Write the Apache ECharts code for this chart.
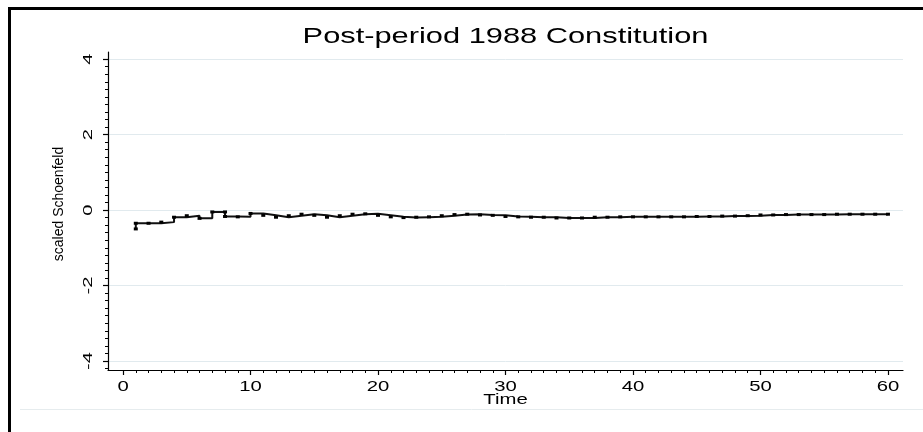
<!DOCTYPE html>
<html>
<head>
<meta charset="utf-8">
<script src="https://cdn.jsdelivr.net/npm/echarts@6/dist/echarts.min.js"></script>
<style>
  html, body { margin: 0; padding: 0; background: #fff; }
  #chart { width: 923px; height: 432px; }
</style>
</head>
<body>
<div id="chart"></div>
<script>
// scaled Schoenfeld residuals against time (step plot)
const timeVals = [1, 1, 2, 3, 4, 5, 6, 7, 8, 8, 9, 10, 11, 12, 13, 14, 15, 16, 17, 18, 19, 20,
  21, 22, 23, 24, 25, 26, 27, 28, 29, 30, 31, 32, 33, 34, 35, 36, 37, 38, 39, 40,
  41, 42, 43, 44, 45, 46, 47, 48, 49, 50, 51, 52, 53, 54, 55, 56, 57, 58, 59, 60];
const residVals = [-0.50, -0.35, -0.35, -0.32, -0.19, -0.15, -0.22, -0.05, -0.05, -0.17, -0.18, -0.09,
  -0.14, -0.19, -0.15, -0.11, -0.14, -0.19, -0.15, -0.11, -0.10, -0.14,
  -0.18, -0.20, -0.19, -0.18, -0.15, -0.12, -0.11, -0.13, -0.14, -0.17,
  -0.18, -0.19, -0.19, -0.21, -0.21, -0.21, -0.19, -0.19, -0.18, -0.18,
  -0.18, -0.18, -0.18, -0.18, -0.17, -0.17, -0.16, -0.16, -0.15, -0.13,
  -0.13, -0.12, -0.12, -0.12, -0.12, -0.11, -0.11, -0.11, -0.11, -0.11];
const xTicks = [0, 10, 20, 30, 40, 50, 60];
const yTicks = [-4, -2, 0, 2, 4];
const titleText = 'Post-period 1988 Constitution';
const xName = 'Time';
const yName = 'scaled Schoenfeld';

const X_MIN = -1.18, X_MAX = 61.18;
const Y_MIN = -4.24, Y_MAX = 4.19;
const FONT = '"Liberation Sans", Arial, sans-serif';

const xMinor = [];
for (let i = 0; i <= 60; i++) xMinor.push(i);
const yMinor = [];
for (let i = -21; i <= 20; i++) yMinor.push(Math.round(i * 2) / 10);

const seriesData = timeVals.map((t, i) => [t, residVals[i]]);

const chart = echarts.init(document.getElementById('chart'));

const option = {
  animation: false,
  backgroundColor: '#fff',
  grid: { left: 108, right: 20, top: 52, bottom: 62 },
  xAxis: [
    {
      type: 'value', min: X_MIN, max: X_MAX,
      axisLine: { onZero: false, lineStyle: { color: '#000', width: 1.2 } },
      axisTick: { customValues: xTicks, length: 5, lineStyle: { color: '#000', width: 1.2 } },
      axisLabel: { show: false },
      splitLine: { show: false }
    },
    {
      type: 'value', min: X_MIN, max: X_MAX, position: 'bottom',
      axisLine: { show: false, onZero: false },
      axisTick: { customValues: xMinor, length: 3, lineStyle: { color: '#000' } },
      axisLabel: { show: false },
      splitLine: { show: false }
    }
  ],
  yAxis: [
    {
      type: 'value', min: Y_MIN, max: Y_MAX,
      axisLine: { show: true, onZero: false, lineStyle: { color: '#000', width: 1.2 } },
      axisTick: { show: true, customValues: yTicks, length: 5, lineStyle: { color: '#000', width: 1.2 } },
      axisLabel: { show: false },
      splitLine: { show: true, lineStyle: { color: '#e1eaee', width: 1 } }
    },
    {
      type: 'value', min: Y_MIN, max: Y_MAX, position: 'left',
      axisLine: { show: false, onZero: false },
      axisTick: { show: true, customValues: yMinor, length: 3, lineStyle: { color: '#000' } },
      axisLabel: { show: false },
      splitLine: { show: false }
    }
  ],
  series: [
    {
      type: 'line',
      step: 'end',
      data: seriesData,
      symbol: 'rect',
      symbolSize: [4, 3],
      showAllSymbol: true,
      itemStyle: { color: '#000' },
      lineStyle: { color: '#111', width: 2 }
    }
  ]
};

chart.setOption(option);

// labels drawn as graphics so they can be widened like the original export
const axisY = chart.convertToPixel({ yAxisIndex: 0 }, Y_MIN);
const axisX = chart.convertToPixel({ xAxisIndex: 0 }, X_MIN);
const plotTop = chart.convertToPixel({ yAxisIndex: 0 }, Y_MAX);
const plotRight = chart.convertToPixel({ xAxisIndex: 0 }, X_MAX);

const graphics = [
  { type: 'rect', shape: { x: 9.5, y: 8.5, width: 940, height: 450 },
    style: { fill: 'none', stroke: '#000', lineWidth: 3 }, z: 10 },
  { type: 'line', shape: { x1: 20, y1: 409.5, x2: 923, y2: 409.5 },
    style: { stroke: '#e6ecee', lineWidth: 1 } },
  { type: 'text', x: (axisX + plotRight) / 2, y: 37, scaleX: 1.4,
    style: { text: titleText, font: '22px ' + FONT, fill: '#000', align: 'center', verticalAlign: 'middle' } },
  { type: 'text', x: (axisX + plotRight) / 2, y: axisY + 30, scaleX: 1.45,
    style: { text: xName, font: '14px ' + FONT, fill: '#000', align: 'center', verticalAlign: 'middle' } },
  { type: 'text', x: axisX - 49, y: (axisY + plotTop) / 2 - 7, rotation: Math.PI / 2,
    style: { text: yName, font: '14px ' + FONT, fill: '#000', align: 'center', verticalAlign: 'middle' } }
];

xTicks.forEach(v => {
  graphics.push({
    type: 'text', x: chart.convertToPixel({ xAxisIndex: 0 }, v), y: axisY + 17, scaleX: 1.45,
    style: { text: String(v), font: '14px ' + FONT, fill: '#000', align: 'center', verticalAlign: 'middle' }
  });
});
yTicks.forEach(v => {
  graphics.push({
    type: 'text', x: axisX - 20, y: chart.convertToPixel({ yAxisIndex: 0 }, v), rotation: Math.PI / 2, scaleX: 1.55,
    style: { text: String(v), font: '13px ' + FONT, fill: '#000', align: 'center', verticalAlign: 'middle' }
  });
});

chart.setOption({ graphic: graphics });
</script>
</body>
</html>
